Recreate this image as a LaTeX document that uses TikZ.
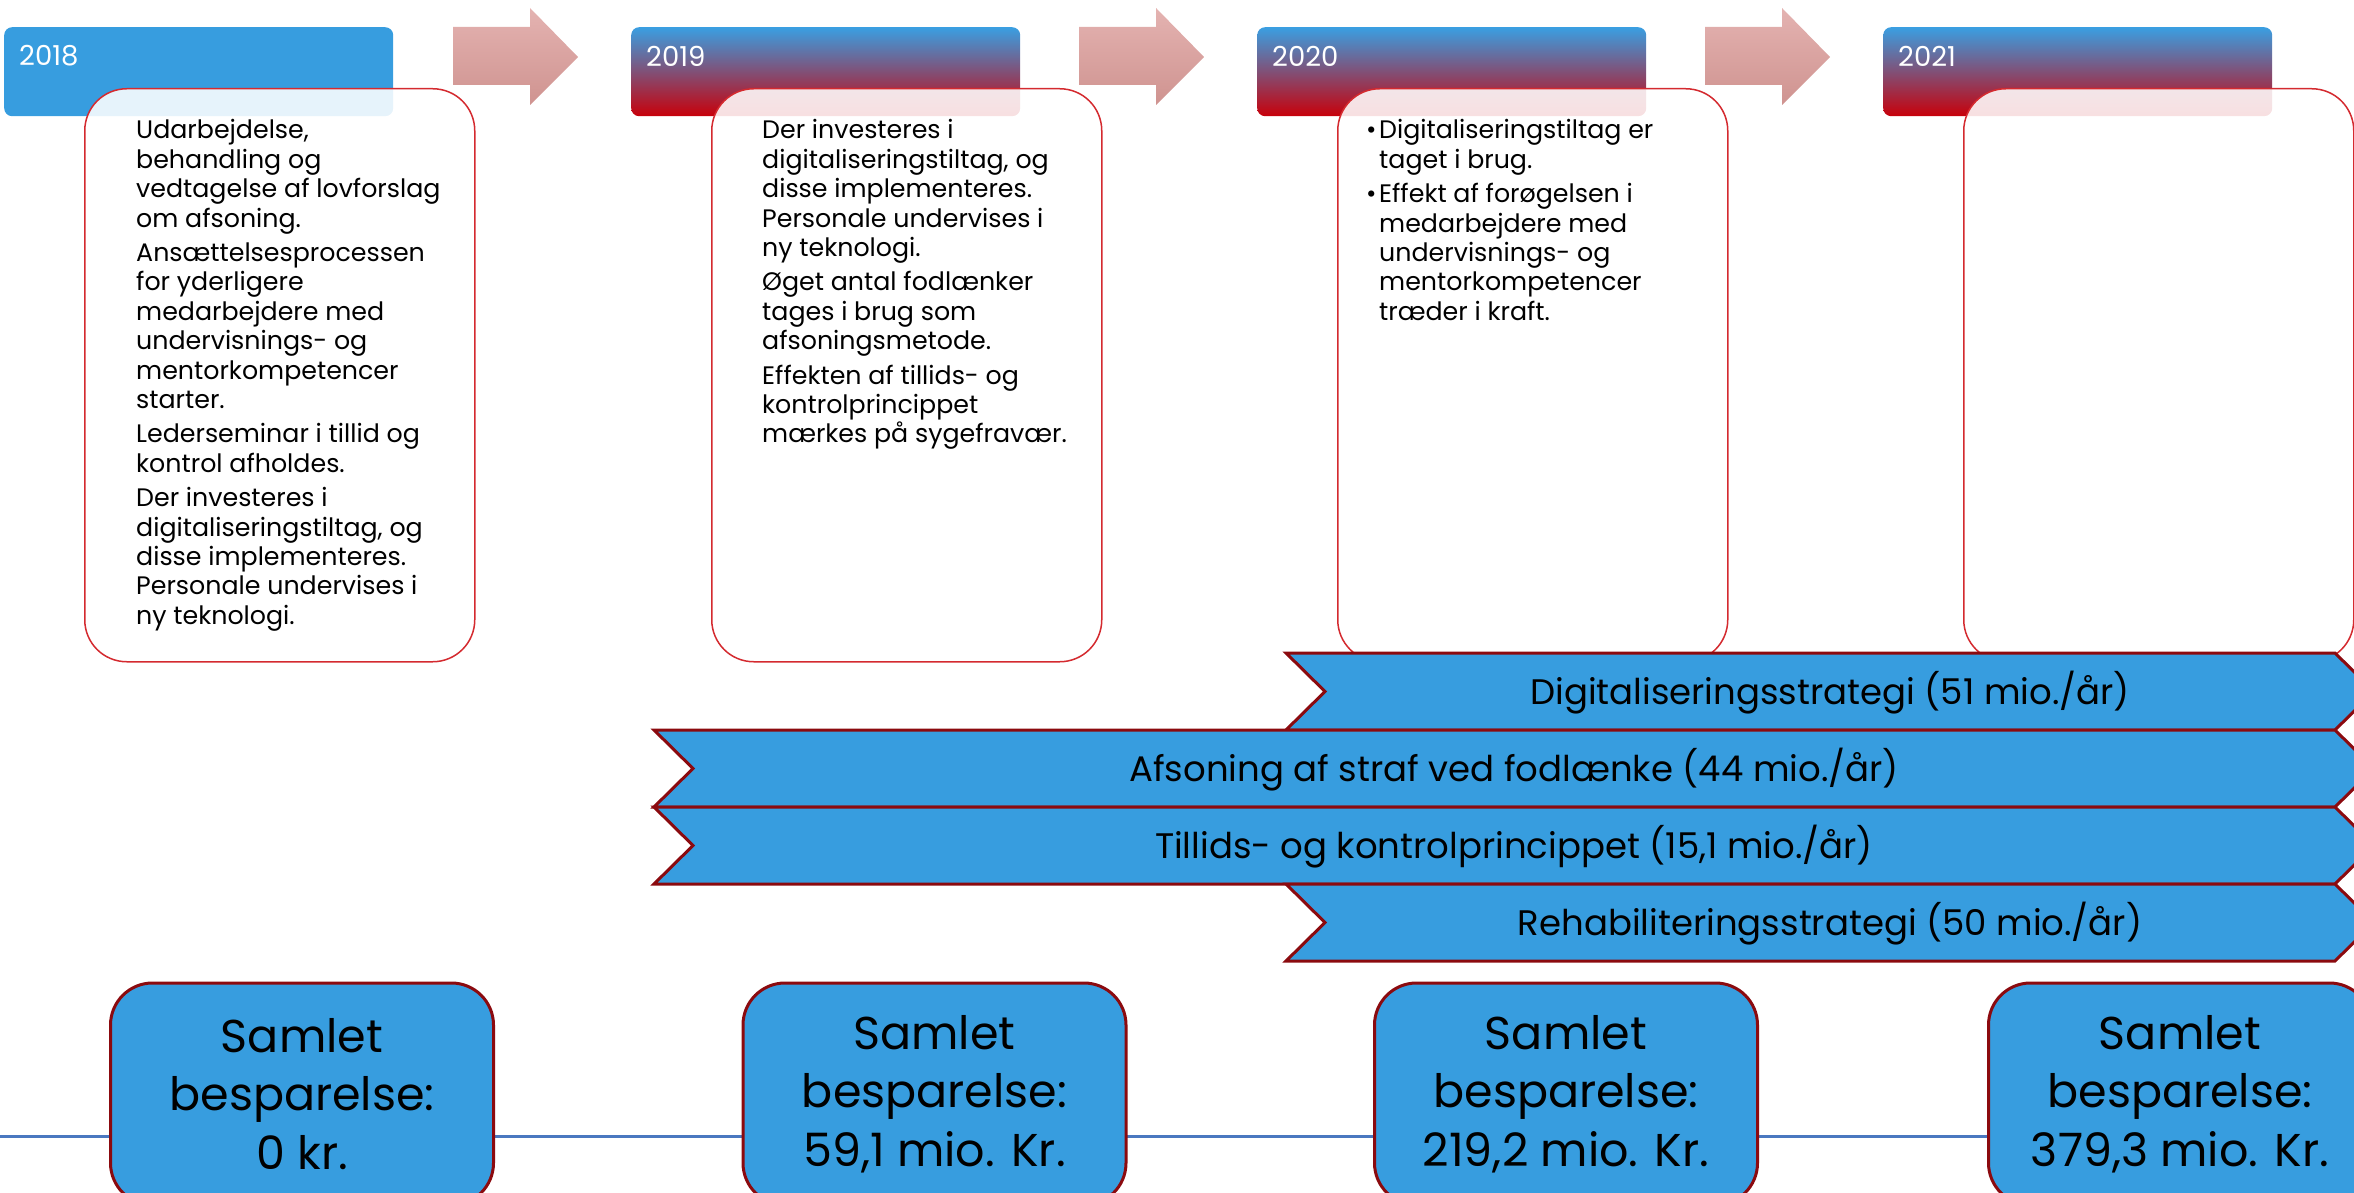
\documentclass[tikz,border=0pt]{standalone}
\usepackage{fontspec}
\setmainfont{Poppins}
\definecolor{ribblue}{HTML}{379DDF}
\definecolor{ribred}{HTML}{8B0A0F}
\definecolor{gradred}{HTML}{C8000A}
\definecolor{gradblue}{HTML}{3A9FE2}
\definecolor{boxred}{HTML}{D42A2F}
\definecolor{arrtop}{HTML}{E4B3B1}
\definecolor{arrbot}{HTML}{CF9390}
\definecolor{linebl}{HTML}{4A78C0}
\tikzset{
  hdrsolid/.style={anchor=north west, minimum width=389pt, minimum height=89pt, inner sep=0pt, rounded corners=8pt, fill=ribblue},
  hdrgrad/.style={anchor=north west, minimum width=389pt, minimum height=89pt, inner sep=0pt, rounded corners=8pt, top color=gradblue, bottom color=gradred},
  yeartext/.style={anchor=west, inner sep=0pt, text=white, font=\fontsize{27.5}{32}\selectfont},
  txtbox/.style={anchor=north west, minimum width=390pt, minimum height=573pt, inner sep=0pt, rounded corners=42pt, draw=boxred, line width=1.5pt, fill=white, fill opacity=0.88},
  boxtext/.style={anchor=north west, inner sep=0pt, align=left, font=\fontsize{25.3}{29.4}\selectfont},
  pinkarrow/.style={top color=arrtop, bottom color=arrbot},
  ribbon/.style={fill=ribblue, draw=ribred, line width=3pt, line join=miter},
  ribtext/.style={inner sep=0pt, font=\fontsize{35.5}{40}\selectfont},
  samlet/.style={minimum width=383pt, minimum height=222pt, inner sep=0pt, rounded corners=42pt, fill=ribblue, draw=ribred, line width=3pt, align=center, font=\fontsize{46}{58.5}\selectfont},
  timeline/.style={draw=linebl, line width=3pt}
}
\begin{document}
\begin{tikzpicture}[x=1pt,y=-1pt]
\useasboundingbox (0,0) rectangle (2354,1193);
% headers
\node[hdrsolid] (h1) at (4,27) {};
\node[hdrgrad] (h2) at (631,27) {};
\node[hdrgrad] (h3) at (1257,27) {};
\node[hdrgrad] (h4) at (1883,27) {};
\node[yeartext] (y1) at (19,56) {2018};
\node[yeartext] (y2) at (646,56) {2019};
\node[yeartext] (y3) at (1272,56) {2020};
\node[yeartext] (y4) at (1898,56) {2021};
% arrows
\shade[pinkarrow] (453,27) -- (530,27) -- (530,8) -- (578,57) -- (530,105) -- (530,85) -- (453,85) -- cycle;
\shade[pinkarrow] (1079,27) -- (1156,27) -- (1156,8) -- (1204,57) -- (1156,105) -- (1156,85) -- (1079,85) -- cycle;
\shade[pinkarrow] (1705,27) -- (1782,27) -- (1782,8) -- (1830,57) -- (1782,105) -- (1782,85) -- (1705,85) -- cycle;
% text boxes
\node[txtbox] (b1) at (84,88) {};
\node[txtbox] (b2) at (711,88) {};
\node[txtbox] (b3) at (1337,88) {};
\node[txtbox] (b4) at (1963,88) {};
\node[boxtext] (t1) at (136,119.5) {Udarbejdelse,\\behandling og\\vedtagelse af lovforslag\\om afsoning.\\[5pt]Ansættelsesprocessen\\for yderligere\\medarbejdere med\\undervisnings- og\\mentorkompetencer\\starter.\\[5pt]Lederseminar i tillid og\\kontrol afholdes.\\[5pt]Der investeres i\\digitaliseringstiltag, og\\disse implementeres.\\Personale undervises i\\ny teknologi.};
\node[boxtext] (t2) at (762,119.5) {Der investeres i\\digitaliseringstiltag, og\\disse implementeres.\\Personale undervises i\\ny teknologi.\\[5pt]Øget antal fodlænker\\tages i brug som\\afsoningsmetode.\\[5pt]Effekten af tillids- og\\kontrolprincippet\\mærkes på sygefravær.};
\node[boxtext] (t3) at (1366,119.5) {\makebox[13pt][l]{•}Digitaliseringstiltag er\\\hspace*{13pt}taget i brug.\\[5pt]\makebox[13pt][l]{•}Effekt af forøgelsen i\\\hspace*{13pt}medarbejdere med\\\hspace*{13pt}undervisnings- og\\\hspace*{13pt}mentorkompetencer\\\hspace*{13pt}træder i kraft.};
% ribbons
\filldraw[ribbon] (1286,653) -- (2335,653) -- (2374,691.5) -- (2335,730) -- (1286,730) -- (1325,691.5) -- cycle;
\filldraw[ribbon] (654,730) -- (2335,730) -- (2374,768.5) -- (2335,807) -- (654,807) -- (693,768.5) -- cycle;
\filldraw[ribbon] (654,807) -- (2335,807) -- (2374,845.5) -- (2335,884) -- (654,884) -- (693,845.5) -- cycle;
\filldraw[ribbon] (1286,884) -- (2335,884) -- (2374,922.5) -- (2335,961) -- (1286,961) -- (1325,922.5) -- cycle;
\node[ribtext] (r1) at (1830,693) {Digitaliseringsstrategi (51 mio./år)};
\node[ribtext] (r2) at (1514,770) {Afsoning af straf ved fodlænke (44 mio./år)};
\node[ribtext] (r3) at (1514,847) {Tillids- og kontrolprincippet (15,1 mio./år)};
\node[ribtext] (r4) at (1830,924) {Rehabiliteringsstrategi (50 mio./år)};
% timeline
\coordinate (tl0) at (0,1136);
\coordinate (tl1) at (2354,1136);
\draw[timeline] (tl0) -- (tl1);
% savings
\node[samlet] (s1) at (302,1094) {Samlet\\besparelse:\\0 kr.};
\node[samlet] (s2) at (934.5,1094) {Samlet\\besparelse:\\59,1 mio. Kr.};
\node[samlet] (s3) at (1566,1094) {Samlet\\besparelse:\\219,2 mio. Kr.};
\node[samlet] (s4) at (2180,1094) {Samlet\\besparelse:\\379,3 mio. Kr.};
\end{tikzpicture}
\end{document}
